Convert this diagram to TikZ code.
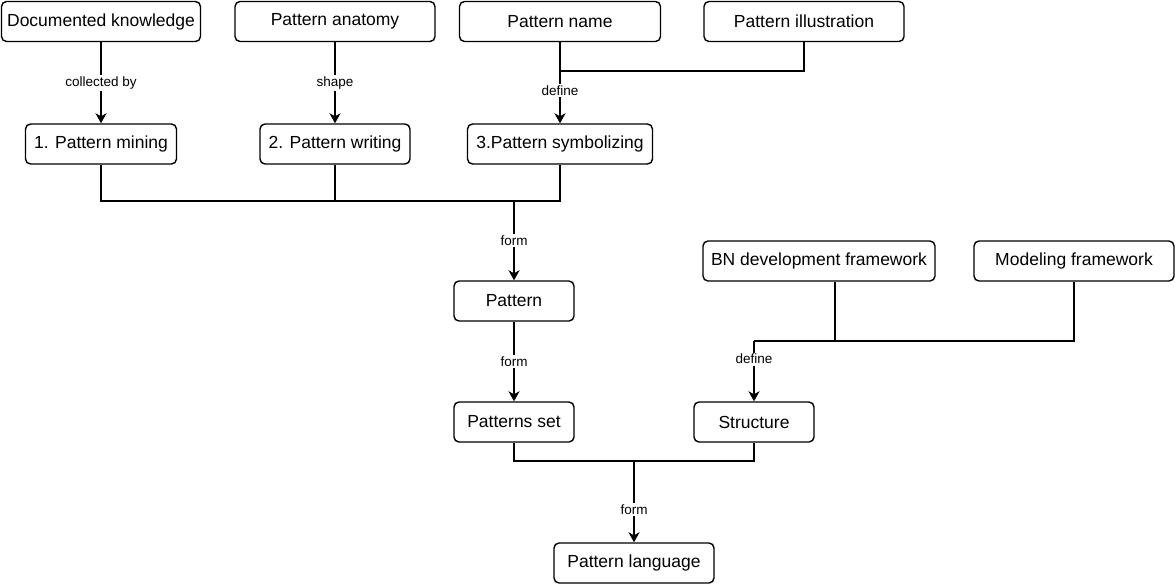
\documentclass[tikz,border=0pt]{standalone}
\usepackage{fontspec}
\setmainfont{Liberation Sans}
\usetikzlibrary{arrows.meta}
\tikzset{
	box/.style = {draw, line width=1.4pt, rounded corners=5pt, inner sep=0pt,
		minimum height=40pt, font=\fontsize{17.5}{20}\selectfont},
	link/.style = {line width=1.6pt},
	arr/.style = {line width=2pt, -{Stealth[length=10pt,width=11pt,inset=3pt]}},
	lbl/.style = {fill=white, inner sep=1.5pt, font=\fontsize{13.5}{15}\selectfont}
}
\begin{document}
\begin{tikzpicture}[x=1pt, y=-1pt]
	\useasboundingbox[fill=white] (0,0) rectangle (1175,584);
	% top row
	\node [box, minimum width=199pt] (dk) at (101,21.5) {Documented knowledge};
	\node [box, minimum width=200pt] (pa) at (335,21.5) {Pattern anatomy};
	\node [box, minimum width=201pt] (pn) at (560,21.5) {Pattern name};
	\node [box, minimum width=200pt] (pi) at (804,21.5) {Pattern illustration};
	% steps
	\node [box, minimum width=151pt] (pm) at (101,144) {1. Pattern mining};
	\node [box, minimum width=150pt] (pw) at (335,144) {2. Pattern writing};
	\node [box, minimum width=185pt] (psym) at (560,144) {3.Pattern symbolizing};
	% middle
	\node [box, minimum width=120pt] (pat) at (514,301) {Pattern};
	\node [box, minimum width=232pt] (bn) at (819,261) {BN development framework};
	\node [box, minimum width=200pt] (mf) at (1074,261) {Modeling framework};
	\node [box, minimum width=120pt] (pset) at (514,422) {Patterns set};
	\node [box, minimum width=120pt] (st) at (754,422) {Structure};
	\node [box, minimum width=160pt] (pl) at (634,563) {Pattern language};
	% joints
	\coordinate (j1) at (560,71);
	\coordinate (j2) at (514,201);
	\coordinate (j3) at (754,341);
	\coordinate (j4) at (634,461);
	% connectors
	\draw [arr] (dk) -- node [lbl] {collected by} (pm);
	\draw [arr] (pa) -- node [lbl] {shape} (pw);
	\draw [link] (pn.south) -- (j1);
	\draw [link] (pi.south) |- (j1);
	\draw [arr] (j1) -- node [lbl, pos=0.38] {define} (psym);
	\draw [link] (pm.south) |- (j2) -| (psym.south);
	\draw [link] (pw.south) -- (pw.south |- j2);
	\draw [arr] (j2) -- node [lbl] {form} (pat);
	\draw [arr] (pat) -- node [lbl] {form} (pset);
	\draw [link] ([xshift=16pt]bn.south) -- ([xshift=16pt]bn.south |- j3);
	\draw [link] (mf.south) |- (j3);
	\draw [arr] (j3) -- node [lbl, pos=0.3] {define} (st);
	\draw [link] (pset.south) |- (j4) -| (st.south);
	\draw [arr] (j4) -- node [lbl, pos=0.6] {form} (pl);
\end{tikzpicture}
\end{document}
